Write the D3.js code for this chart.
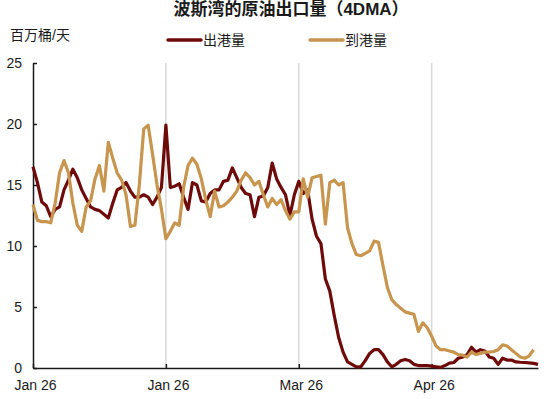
<!DOCTYPE html>
<html lang="zh">

<head>
    <meta charset="utf-8">
    <title>波斯湾的原油出口量</title>
    <script src="https://d3js.org/d3.v7.min.js"></script>
    <style>
        body {
            margin: 0;
            background: white;
        }

        svg {
            display: block;
            font-family: "Liberation Sans", Arial, "Noto Sans CJK SC", sans-serif;
        }
    </style>
</head>

<body>
    <div id="chart"></div>

    <script>
        // daily series, 1 Jan 2026 onwards (4-day moving average, mb/d)
        const outbound = [
            16.5, 15.2, 13.6, 13.3, 12.4, 13.0, 13.2, 14.6, 15.4, 16.3,
            15.6, 14.6, 13.9, 13.2, 13.0, 12.9, 12.6, 12.3, 13.5, 14.6,
            14.8, 15.2, 14.5, 14.0, 14.0, 14.2, 14.0, 13.4, 14.0, 14.8,
            19.9, 14.8, 14.9, 15.1, 14.0, 13.0, 15.2, 15.0, 13.7, 13.6,
            14.3, 14.6, 14.6, 15.3, 15.4, 16.4, 15.6, 14.8, 14.3, 14.2,
            12.4, 14.0, 14.1, 14.8, 16.8, 15.5, 14.8, 14.2, 12.5, 14.2,
            15.3, 14.3, 14.6, 12.2, 10.8, 10.2, 7.3, 6.3, 4.3, 2.5,
            1.3, 0.5, 0.3, 0.1, 0.1, 0.6, 1.2, 1.5, 1.5, 1.1,
            0.5, 0.1, 0.3, 0.6, 0.7, 0.6, 0.3, 0.2, 0.2, 0.2,
            0.15, 0.1, 0.05, 0.2, 0.4, 0.45, 0.8, 0.9, 1.1, 1.7,
            1.3, 1.5, 1.4, 0.9, 0.8, 0.3, 0.8, 0.65, 0.65, 0.5,
            0.47, 0.45, 0.42, 0.38, 0.3
        ];

        const inbound = [
            13.4, 12.1, 12.0, 12.0, 11.9, 13.5, 16.0, 17.0, 16.0, 13.5,
            11.7, 11.2, 13.2, 13.7, 15.5, 16.6, 14.5, 18.5, 17.2, 16.0,
            15.4, 14.2, 11.6, 11.7, 15.0, 19.6, 19.9, 17.5, 15.0, 13.0,
            10.6, 11.2, 11.9, 11.7, 14.8, 16.6, 17.2, 16.7, 15.5, 13.8,
            12.4, 14.5, 13.2, 13.3, 13.6, 14.0, 14.5, 15.4, 16.0, 15.6,
            15.0, 15.3, 14.2, 13.2, 13.9, 13.4, 13.8, 12.9, 12.2, 12.8,
            12.8, 15.5, 14.0, 15.6, 15.7, 15.8, 11.8, 15.2, 15.4, 15.0,
            15.2, 11.5, 10.2, 9.3, 9.2, 9.4, 9.6, 10.4, 10.3, 8.4,
            6.6, 5.6, 5.2, 4.9, 4.6, 4.5, 4.4, 3.0, 3.7, 3.3,
            2.6, 1.8, 1.5, 1.5, 1.4, 1.3, 1.1, 1.05, 0.9, 1.3,
            1.1, 1.2, 1.3, 1.3, 1.35, 1.5, 1.9, 1.8, 1.5, 1.2,
            0.9, 0.8, 1.0, 1.5, null
        ];

        const seriesNames = ['出港量', '到港量'];
        const tickIndex = [0, 30, 60, 90];
        const tickLabels = ['Jan 26', 'Jan 26', 'Mar 26', 'Apr 26'];
        const yTicks = [0, 5, 10, 15, 20, 25];

        const svgWidth = 550, svgHeight = 399;
        const plotLeft = 33, plotRight = 538, plotTop = 63, plotBottom = 368;
        const colors = ['#6e0a0a', '#c8954f'];

        const svg = d3.select('#chart')
            .append('svg')
            .attr('width', svgWidth)
            .attr('height', svgHeight);

        const scaleX = d3.scaleLinear()
            .domain([0, outbound.length - 1])
            .range([plotLeft, plotRight]);

        const scaleY = d3.scaleLinear()
            .domain([0, 25])
            .range([plotBottom, plotTop]);

        // title + unit
        svg.append('text')
            .attr('x', 291)
            .attr('y', 15)
            .attr('text-anchor', 'middle')
            .attr('font-size', '17px')
            .attr('font-weight', 'bold')
            .attr('fill', '#1a1a1a')
            .text('波斯湾的原油出口量（4DMA）');

        svg.append('text')
            .attr('x', 10)
            .attr('y', 40)
            .attr('font-size', '14px')
            .attr('fill', '#1a1a1a')
            .text('百万桶/天');

        // legend
        const legend = svg.append('g');
        const legendX = [168, 310];
        seriesNames.forEach((name, i) => {
            legend.append('line')
                .attr('x1', legendX[i]).attr('x2', legendX[i] + 33)
                .attr('y1', 40).attr('y2', 40)
                .attr('stroke', colors[i])
                .attr('stroke-width', 3.5)
                .attr('stroke-linecap', 'round');
            legend.append('text')
                .attr('x', legendX[i] + 35)
                .attr('y', 45)
                .attr('font-size', '14px')
                .attr('fill', '#1a1a1a')
                .text(name);
        });

        // vertical gridlines
        svg.append('g')
            .selectAll('line')
            .data(tickIndex.slice(1))
            .join('line')
            .attr('x1', d => scaleX(d)).attr('x2', d => scaleX(d))
            .attr('y1', plotTop).attr('y2', plotBottom)
            .attr('stroke', '#d9d9d9')
            .attr('stroke-width', 1.5);

        // axes
        const xAxis = d3.axisBottom(scaleX)
            .tickValues(tickIndex)
            .tickFormat((d, i) => tickLabels[i])
            .tickSizeInner(-4)
            .tickSizeOuter(0)
            .tickPadding(12);

        const gx = svg.append('g')
            .attr('transform', 'translate(0,' + plotBottom + ')')
            .call(xAxis);
        gx.select('.domain').attr('stroke', '#1a1a1a').attr('stroke-width', 1.5);
        gx.selectAll('.tick line').attr('stroke', '#1a1a1a').attr('stroke-width', 1.5);
        gx.selectAll('text')
            .attr('font-size', '14px')
            .attr('font-family', null)
            .attr('x', 2)
            .attr('fill', '#1a1a1a');

        const yAxis = d3.axisLeft(scaleY)
            .tickValues(yTicks)
            .tickSizeInner(-4)
            .tickSizeOuter(0)
            .tickPadding(11);

        const gy = svg.append('g')
            .attr('transform', 'translate(' + plotLeft + ',0)')
            .call(yAxis);
        gy.select('.domain').attr('stroke', '#1a1a1a').attr('stroke-width', 1.5);
        gy.selectAll('.tick line').attr('stroke', '#1a1a1a').attr('stroke-width', 1.5);
        gy.selectAll('text')
            .attr('font-size', '14px')
            .attr('font-family', null)
            .attr('fill', '#1a1a1a');

        // lines
        const line = d3.line()
            .defined(d => d != null)
            .x((d, i) => scaleX(i))
            .y(d => scaleY(d));

        [outbound, inbound].forEach((values, i) => {
            svg.append('path')
                .datum(values)
                .attr('fill', 'none')
                .attr('stroke', colors[i])
                .attr('stroke-width', 3.2)
                .attr('stroke-linejoin', 'round')
                .attr('d', line);
        });
    </script>
</body>

</html>
